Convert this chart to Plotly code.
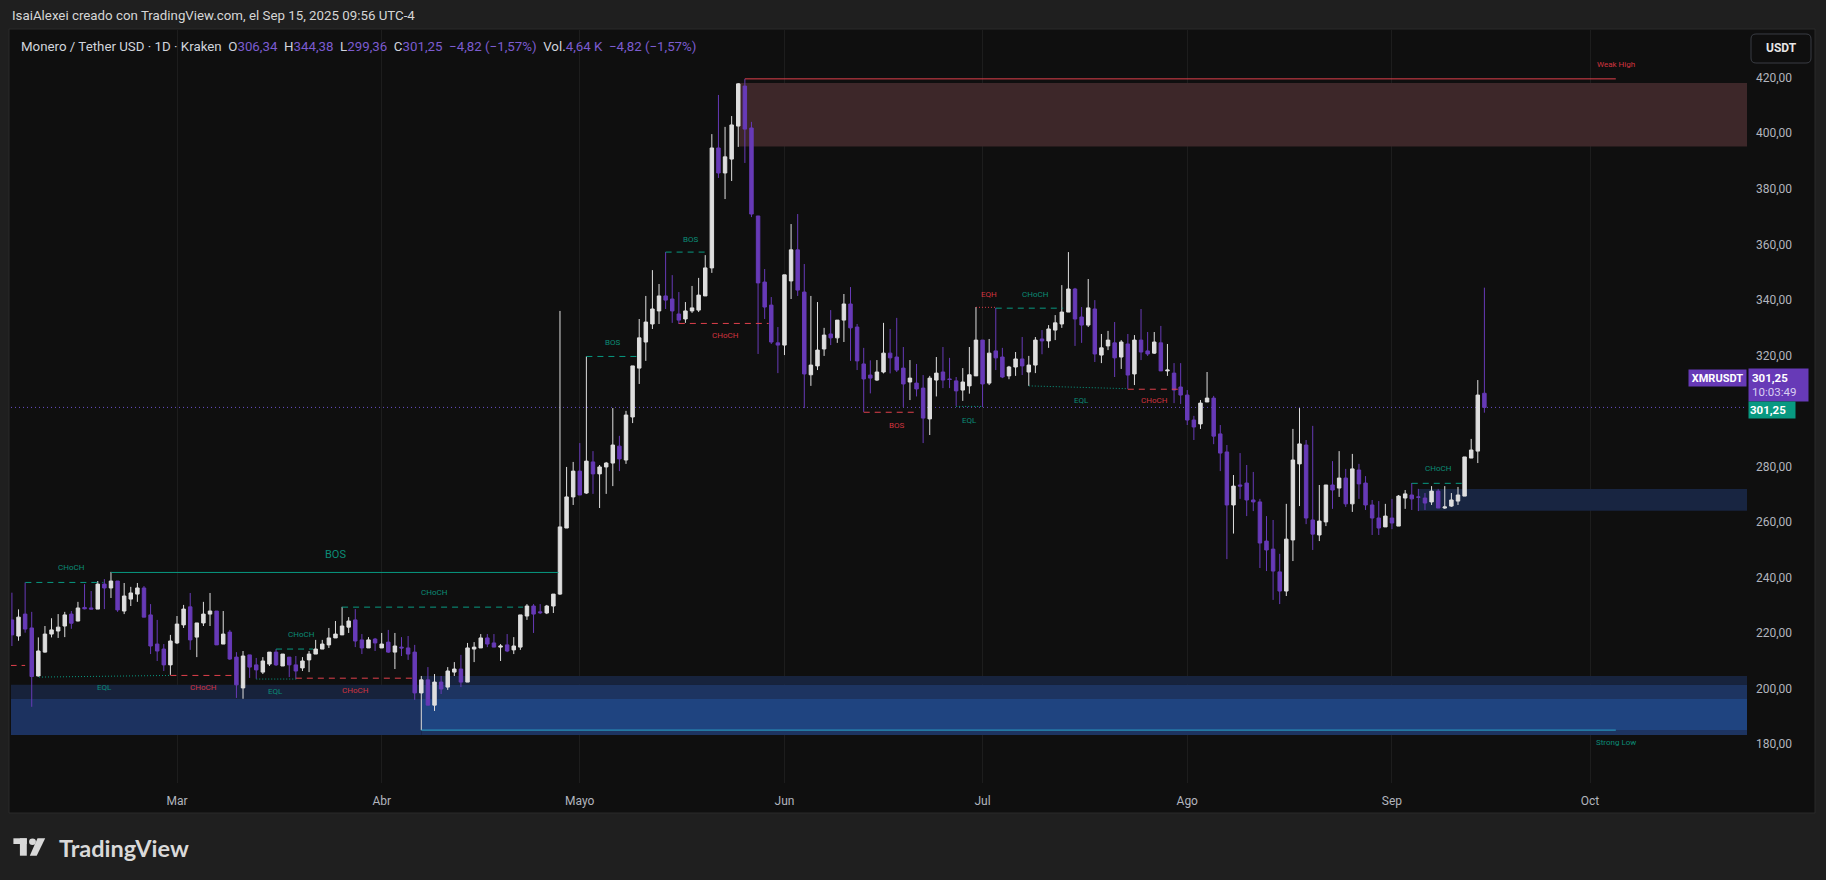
import plotly.graph_objects as go
import pandas as pd
from datetime import datetime, timedelta

# ---------------- data (daily candles from 2025-02-04) ----------------
START_DATE = "2025-02-04"
opens = [
 224.7,218.9,226.8,221.8,204.5,213.1,219.6,220.7,222.5,226.8,224.3,229.2,229.0,228.6,237.6,236.2,238.7,227.9,232.2,234.0,236.2,226.5,216.0,214.2,208.5,
 216.4,222.9,229.4,218.5,223.6,226.8,227.9,216.0,220.3,211.3,200.2,212.1,208.5,205.9,208.8,213.1,208.1,211.3,208.5,207.4,210.3,212.4,214.2,215.7,218.2,219.3,222.1,224.7,217.5,214.6,217.8,
 214.6,216.7,213.1,214.9,214.6,213.1,198.4,203.1,194.0,202.3,200.5,205.9,207.0,202.3,214.2,214.6,218.2,216.4,214.9,215.7,213.9,214.9,226.1,229.7,227.6,227.2,229.7,234.0,257.8,269.0,
 278.3,270.4,281.6,277.3,279.8,281.2,287.3,282.3,297.8,315.4,324.8,331.3,336.0,341.4,340.3,334.9,333.1,336.0,336.3,341.4,351.5,394.7,385.7,390.7,402.6,417.0,401.9,370.2,346.4,338.1,324.5,
 323.7,346.8,358.0,342.8,313.0,316.2,322.3,327.7,326.3,332.7,338.5,330.2,316.9,312.9,311.1,314.0,320.8,319.4,315.4,310.4,310.0,308.2,297.1,311.1,314.0,311.5,310.8,307.5,309.0,312.6,
 325.5,310.0,321.6,319.4,312.6,315.8,318.7,314.0,316.5,325.9,325.2,329.1,331.3,335.6,343.9,333.8,330.9,336.7,320.1,323.4,324.5,319.4,324.1,313.3,325.5,321.6,320.8,324.5,314.4,313.6,308.6,
 305.7,296.7,295.3,303.2,304.6,291.7,285.2,266.1,273.3,274.0,267.9,267.2,253.1,250.2,242.0,235.1,253.5,280.9,287.7,260.7,255.3,260.0,273.3,272.2,275.8,266.5,278.7,274.0,266.1,261.4,258.2,
 261.4,258.5,268.6,269.7,269.0,268.6,267.2,271.1,265.0,265.7,267.5,269.3,283.0,285.5,306.34]
highs = [
 234.5,228.5,238.2,227.6,218.4,222.5,225.3,226.8,227.6,227.9,231.2,237.6,235.1,238.7,239.4,242.0,238.7,238.0,236.6,238.0,236.9,230.4,224.7,216.0,219.3,
 226.1,230.1,234.4,223.6,231.2,234.4,227.9,227.9,221.1,213.1,213.5,212.1,211.0,211.3,213.1,214.2,212.4,211.3,211.7,211.3,213.5,217.5,217.5,221.8,224.3,229.4,225.7,228.6,219.6,218.5,218.2,
 220.0,221.1,220.0,218.5,218.9,215.7,204.5,207.7,205.2,204.5,207.7,209.5,212.1,216.4,216.7,219.6,219.6,219.6,216.0,219.6,218.5,226.5,230.4,230.4,230.4,230.1,234.0,336.0,279.8,281.6,
 288.4,319.6,285.5,280.5,281.6,301.0,291.0,300.0,316.2,333.1,341.4,350.7,345.7,357.2,348.9,342.8,339.2,345.0,347.9,356.1,399.7,413.8,402.3,406.2,418.1,419.6,404.1,370.2,351.1,341.0,330.2,
 349.0,367.3,370.9,352.9,341.4,339.2,329.9,336.3,332.7,342.1,344.6,331.3,322.7,318.2,318.3,331.7,329.5,333.5,323.0,318.3,316.9,312.9,312.6,319.4,323.0,319.1,312.2,315.4,323.0,337.4,
 325.5,325.9,337.1,322.7,316.2,321.2,326.6,319.8,326.6,329.1,330.9,334.5,345.3,357.2,344.3,337.4,347.5,339.9,327.7,328.8,332.0,325.5,327.7,327.3,336.7,328.4,328.4,330.6,324.1,317.2,317.2,
 307.5,298.2,303.9,314.0,305.4,294.9,287.7,276.9,284.8,280.5,278.0,268.3,262.1,260.7,248.5,266.5,293.5,301.0,289.5,294.6,273.3,273.3,281.9,285.5,279.1,284.5,280.9,276.5,267.9,267.5,266.5,
 268.3,269.7,271.5,274.0,271.9,270.4,272.9,271.9,272.9,270.4,272.6,283.4,289.9,311.1,344.38]
lows = [
 215.3,217.2,220.1,193.4,204.3,212.9,218.4,218.2,218.5,221.5,224.2,228.5,228.6,228.6,228.6,232.6,227.6,226.8,229.7,231.2,225.7,212.4,209.9,206.3,204.9,
 216.0,221.8,213.9,211.3,222.5,222.5,215.7,216.0,210.3,196.6,196.3,203.8,203.5,205.2,208.1,208.1,208.1,204.1,203.5,206.3,205.9,212.4,214.2,214.6,218.2,219.3,220.0,214.9,212.4,214.6,213.5,
 214.6,212.8,207.0,211.7,210.3,195.9,185.0,194.0,191.9,198.0,199.5,204.5,200.5,202.3,209.5,214.6,214.9,214.9,209.9,213.1,212.4,213.9,224.7,220.0,226.8,226.8,227.2,233.7,257.8,266.1,
 269.7,270.1,270.1,265.0,270.1,272.9,278.3,280.9,295.6,309.7,318.0,329.5,331.3,336.7,331.7,331.3,331.7,335.3,335.6,341.4,349.7,383.9,376.3,382.8,395.1,389.3,369.8,320.5,333.1,324.1,313.6,
 320.1,340.3,341.4,301.0,309.0,314.7,319.8,323.7,324.5,324.8,318.0,314.7,299.6,306.3,310.8,313.5,313.5,314.0,301.4,303.9,305.2,288.4,291.3,305.2,308.2,308.2,301.8,303.6,306.2,312.6,
 301.4,309.3,314.7,311.8,311.4,312.6,312.9,309.0,313.6,320.4,322.7,325.5,329.9,335.6,323.4,324.5,330.2,317.6,317.2,321.9,312.2,315.1,307.9,309.3,318.3,319.8,320.5,314.4,312.6,302.8,302.5,
 294.9,289.5,293.5,303.2,288.0,278.3,246.6,255.8,268.3,262.1,263.9,243.4,242.3,231.9,230.4,233.3,245.9,265.7,259.2,249.9,253.1,258.5,264.7,269.0,265.4,263.6,268.3,264.3,255.3,255.3,258.2,
 257.4,258.5,264.7,264.3,263.9,264.3,266.1,265.0,264.7,265.4,266.1,269.3,283.0,281.2,299.36]
closes = [
 219.3,225.7,221.4,204.3,213.5,219.6,221.1,222.1,226.5,223.5,229.0,228.7,228.6,237.6,236.2,238.7,228.3,233.3,234.4,236.2,225.7,215.3,213.5,208.5,217.1,
 223.2,228.6,217.5,223.6,226.8,227.9,215.7,219.6,210.6,201.3,211.7,207.7,206.7,209.9,213.1,208.5,212.4,208.5,206.3,209.9,212.4,214.2,216.0,218.2,219.6,222.5,224.3,217.1,214.6,217.5,216.4,
 216.0,213.1,215.3,214.6,212.4,198.4,203.1,194.0,202.3,199.8,206.3,207.0,202.3,214.6,214.9,218.2,216.0,214.9,215.3,213.5,215.3,226.5,229.7,226.8,227.3,229.7,234.0,258.2,269.0,278.3,
 269.7,281.9,277.3,279.8,281.2,287.7,282.7,298.5,316.2,326.3,332.0,336.7,341.4,339.9,336.0,332.7,336.0,337.1,341.7,351.5,394.7,385.7,391.5,403.0,417.8,401.5,370.9,346.1,337.4,324.8,323.7,
 349.0,358.0,343.5,313.3,316.5,321.9,327.3,326.3,332.7,338.5,329.9,318.0,311.5,311.8,314.0,320.8,319.1,314.7,309.7,311.8,307.9,297.4,311.8,313.6,311.1,311.3,307.2,310.4,313.0,325.5,
 309.7,320.8,319.1,312.2,315.8,318.7,316.2,316.5,325.5,325.2,329.5,331.7,335.6,343.9,333.1,330.9,337.1,320.5,322.7,325.5,319.1,324.8,312.9,325.5,321.2,320.5,324.8,314.4,314.7,307.5,305.7,
 296.7,294.2,302.8,304.6,290.9,284.8,266.1,272.9,272.9,267.9,267.2,252.4,249.9,242.3,235.1,253.8,282.3,288.1,261.4,255.6,260.3,273.3,271.5,275.8,266.5,279.1,273.7,266.1,261.4,257.8,262.1,
 259.6,269.3,270.1,268.3,268.9,266.8,271.1,265.0,265.4,267.9,269.7,283.4,285.9,305.7,301.25]
dates = pd.date_range(START_DATE, periods=len(opens), freq="D")

last_price = 301.25
month_ticks = ["2025-03-01", "2025-04-01", "2025-05-01", "2025-06-01",
               "2025-07-01", "2025-08-01", "2025-09-01", "2025-10-01"]
month_labels = ["Mar", "Abr", "Mayo", "Jun", "Jul", "Ago", "Sep", "Oct"]
price_ticks = [180, 200, 220, 240, 260, 280, 320, 340, 360, 380, 400, 420]

# structure levels: day offsets from 2025-03-01, prices
lvl_d0 = [-22.97, -9.95, 15.0, 25.0, 62.0, 74.0, 76.0, -25.2, -1.0, 18.0, -20.9, 12.0, 104.0, 118.0, 121.0, 124.0, 129.0, 144.0, 187.0, 86.0, 37.0]
lvl_d1 = [-11.16, 57.75, 20.6, 52.4, 69.7, 80.4, 89.6, -23.0, 8.5, 35.8, -1.0, 18.07, 112.3, 121.8, 123.9, 134.2, 143.8, 151.9, 194.8, 217.9, 217.9]
lvl_p0 = [238.2, 241.8, 214.2, 229.3, 319.6, 357.2, 331.5, 208.3, 204.7, 203.7, 204.1, 203.4, 299.5, 301.6, 337.3, 337.0, 309.0, 307.8, 273.9, 419.6, 185.0]
lvl_p1 = [238.2, 241.8, 214.2, 229.3, 319.6, 357.2, 331.5, 208.3, 204.7, 203.7, 204.7, 203.4, 299.5, 301.6, 337.3, 337.0, 308.0, 307.8, 273.9, 419.6, 185.0]
lvl_kind = ["bull_dash", "bull_solid", "bull_dash", "bull_dash", "bull_dash", "bull_dash", "bear_dash",
            "bear_dash", "bear_dash", "bear_dash", "bull_dot", "bull_dot", "bear_dash", "bull_dot",
            "bear_dot", "bull_dash", "bull_dot", "bear_dash", "bull_dash", "weak_high", "strong_low"]

lbl_text = ["CHoCH", "BOS", "CHoCH", "CHoCH", "EQL", "CHoCH", "EQL", "CHoCH", "BOS", "BOS", "CHoCH",
            "BOS", "EQL", "EQH", "CHoCH", "EQL", "CHoCH", "CHoCH", "Weak High", "Strong Low"]
lbl_day = [-15.93, 23.93, 18.87, 38.97, -11.01, 4.04, 14.89, 27.06, 65.88, 77.84, 83.10,
           108.94, 119.99, 122.93, 129.99, 136.96, 148.07, 191.08, 217.9, 217.9]
lbl_price = [243.5, 248.4, 219.4, 234.4, 200.5, 200.5, 199.0, 199.1, 324.8, 361.9, 327.3,
             294.9, 296.7, 342.1, 342.1, 303.6, 303.6, 279.1, 424.6, 180.7]
lbl_kind = ["bull", "bull_big", "bull", "bull", "bull", "bear", "bull", "bear", "bull", "bull", "bear",
            "bear", "bull", "bear", "bull", "bull", "bear", "bull", "bear", "bull"]

# order-block zones: day offsets, price bounds
X_LEFT, X_RIGHT = -25.14, 237.77
zone_d0 = [85.15, 188.0, X_LEFT, X_LEFT, 37.0, 37.0, 37.0, 37.0]
zone_d1 = [X_RIGHT, X_RIGHT, 37.0, 37.0, X_RIGHT, X_RIGHT, X_RIGHT, X_RIGHT]
zone_lo = [395.2, 264.0, 196.2, 183.2, 201.3, 196.2, 185.0, 183.2]
zone_hi = [418.1, 271.9, 201.3, 196.2, 204.5, 201.3, 196.2, 185.0]
zone_col = ["#3d2729", "#182541", "#17223b", "#1c3260", "#17233d", "#1d3461", "#1f4480", "#1d3461"]

# ---------------- styling helpers ----------------
W, H = 1826, 880
ML, MR, MT, MB = 11, 1826 - 1747, 30, 880 - 783
BASE = datetime(2025, 3, 1)
FONT = "Roboto, Liberation Sans, sans-serif"
NARROW = "Liberation Sans Narrow, Roboto, sans-serif"
TEAL, RED, CYAN = "#089981", "#e0404c", "#2aa5c9"
TEAL_TXT, RED_TXT = "#0b8c76", "#d2343f"


def dday(d):
    return (BASE + timedelta(days=d)).strftime("%Y-%m-%d %H:%M:%S")


def pxx(x):
    return (x - ML) / (W - ML - MR)


def pxy(y):
    return (H - MB - y) / (H - MB - MT)


fig = go.Figure()
fig.add_trace(go.Candlestick(
    x=dates, open=opens, high=highs, low=lows, close=closes,
    increasing=dict(line=dict(color="#dedede", width=1), fillcolor="#dedede"),
    decreasing=dict(line=dict(color="#673ab7", width=1), fillcolor="#673ab7"),
    whiskerwidth=0, hoverinfo="skip", showlegend=False))

shapes = []
# frame
shapes.append(dict(type="rect", xref="paper", yref="paper", x0=pxx(9), x1=pxx(1815), y0=pxy(813), y1=pxy(29),
                   fillcolor="#0f0f0f", line=dict(color="#2b2b2b", width=1), layer="below"))
# zones
for d0, d1, lo, hi, c in zip(zone_d0, zone_d1, zone_lo, zone_hi, zone_col):
    shapes.append(dict(type="rect", xref="x", yref="y", x0=dday(d0), x1=dday(d1), y0=lo, y1=hi,
                       fillcolor=c, line=dict(width=0), layer="between"))
# current price dotted line
shapes.append(dict(type="line", xref="x", yref="y", x0=dday(X_LEFT), x1=dday(X_RIGHT), y0=last_price, y1=last_price,
                   line=dict(color="#6a50c8", width=1, dash="1px,3px"), layer="between"))
# structure levels
style = {
    "bull_dash": dict(color=TEAL, width=1, dash="6px,5px"),
    "bear_dash": dict(color=RED, width=1, dash="6px,5px"),
    "bull_solid": dict(color=TEAL, width=1),
    "bull_dot": dict(color=TEAL, width=1, dash="1px,2px"),
    "bear_dot": dict(color=RED, width=1, dash="1px,2px"),
    "weak_high": dict(color=RED, width=1),
    "strong_low": dict(color=CYAN, width=1),
}
for d0, d1, p0, p1, k in zip(lvl_d0, lvl_d1, lvl_p0, lvl_p1, lvl_kind):
    shapes.append(dict(type="line", xref="x", yref="y", x0=dday(d0), x1=dday(d1), y0=p0, y1=p1,
                       line=style[k], layer="above"))

# TradingView logo shapes
LOGO = "#d9d9d9"
shapes.append(dict(type="rect", xref="paper", yref="paper", x0=pxx(13.4), x1=pxx(26.8), y0=pxy(844), y1=pxy(838.3),
                   fillcolor=LOGO, line=dict(width=0)))
shapes.append(dict(type="rect", xref="paper", yref="paper", x0=pxx(19.9), x1=pxx(26.8), y0=pxy(855.7), y1=pxy(838.3),
                   fillcolor=LOGO, line=dict(width=0)))
shapes.append(dict(type="circle", xref="paper", yref="paper", x0=pxx(29.1), x1=pxx(35.9), y0=pxy(845), y1=pxy(838.4),
                   fillcolor=LOGO, line=dict(width=0)))
shapes.append(dict(type="path", xref="paper", yref="paper",
                   path=f"M {pxx(37.5)},{pxy(838.3)} L {pxx(45.2)},{pxy(838.3)} L {pxx(36.7)},{pxy(855.7)} L {pxx(29.8)},{pxy(855.7)} Z",
                   fillcolor=LOGO, line=dict(width=0)))


# USDT button (rounded)
def rrect(x0, y0, x1, y1, r):
    X = lambda v: f"{pxx(v):.6f}"
    Y = lambda v: f"{pxy(v):.6f}"
    return (f"M {X(x0+r)},{Y(y0)} L {X(x1-r)},{Y(y0)} Q {X(x1)},{Y(y0)} {X(x1)},{Y(y0+r)} "
            f"L {X(x1)},{Y(y1-r)} Q {X(x1)},{Y(y1)} {X(x1-r)},{Y(y1)} L {X(x0+r)},{Y(y1)} "
            f"Q {X(x0)},{Y(y1)} {X(x0)},{Y(y1-r)} L {X(x0)},{Y(y0+r)} Q {X(x0)},{Y(y0)} {X(x0+r)},{Y(y0)} Z")


shapes.append(dict(type="path", xref="paper", yref="paper", path=rrect(1751, 34, 1811, 63, 5),
                   fillcolor="#0f0f0f", line=dict(color="#3a3d44", width=1)))

ann = []
# title + legend header
ann.append(dict(xref="paper", yref="paper", x=pxx(10), y=pxy(15.5), xanchor="left", yanchor="middle",
                text="IsaiAlexei creado con TradingView.com, el Sep 15, 2025 09:56 UTC-4",
                font=dict(family=FONT, size=13.3, color="#d6d6d6"), showarrow=False))
P = "#7c5cd0"
sp = "\u00a0\u00a0"
hdr = (f"Monero / Tether USD · 1D · Kraken{sp}O<span style='color:{P}'>306,34</span>{sp}"
       f"H<span style='color:{P}'>344,38</span>{sp}L<span style='color:{P}'>299,36</span>{sp}"
       f"C<span style='color:{P}'>301,25</span>{sp}<span style='color:{P}'>\u22124,82 (\u22121,57%)</span>{sp}"
       f"Vol.<span style='color:{P}'>4,64\u00a0K</span>{sp}<span style='color:{P}'>\u22124,82 (\u22121,57%)</span>")
ann.append(dict(xref="paper", yref="paper", x=pxx(19), y=pxy(46.5), xanchor="left", yanchor="middle",
                text=hdr, font=dict(family=FONT, size=13.3, color="#d1d4dc"), showarrow=False))
# SMC labels
for t, d, p, k in zip(lbl_text, lbl_day, lbl_price, lbl_kind):
    col = TEAL_TXT if k.startswith("bull") else RED_TXT
    size = 11 if k == "bull_big" else 8
    ann.append(dict(xref="x", yref="y", x=dday(d), y=p, text=t, showarrow=False,
                    xanchor="center", yanchor="middle", font=dict(family=NARROW, size=size, color=col)))
# right-side price tags
ann.append(dict(xref="paper", yref="paper", x=pxx(1717.5), y=pxy(377.5), xanchor="center", yanchor="middle",
                text="<b>XMRUSDT</b>", bgcolor="#673ab7", width=57, height=16, borderpad=0,
                font=dict(family=FONT, size=11, color="#ffffff"), showarrow=False))
ann.append(dict(xref="paper", yref="paper", x=pxx(1748), y=pxy(384.5), xanchor="left", yanchor="middle",
                text="<b>301,25</b><br><span style='color:#d9cff2'>10:03:49</span>", align="left",
                bgcolor="#673ab7", width=53, height=26, borderpad=3,
                font=dict(family=FONT, size=11.5, color="#ffffff"), showarrow=False))
ann.append(dict(xref="paper", yref="paper", x=pxx(1748), y=pxy(409.5), xanchor="left", yanchor="middle",
                text="<b>301,25</b>", align="left", bgcolor="#089981", width=44, height=14, borderpad=1,
                font=dict(family=FONT, size=11.5, color="#ffffff"), showarrow=False))
ann.append(dict(xref="paper", yref="paper", x=pxx(1781), y=pxy(48.5), xanchor="center", yanchor="middle",
                text="<b>USDT</b>", font=dict(family=FONT, size=12, color="#e6e6e6"), showarrow=False))
ann.append(dict(xref="paper", yref="paper", x=pxx(57), y=pxy(848), xanchor="left", yanchor="middle",
                text="<b>TradingView</b>", font=dict(family="Lato, Inter, sans-serif", size=23.5, color=LOGO),
                showarrow=False))

fig.update_layout(
    width=W, height=H, margin=dict(l=ML, r=MR, t=MT, b=MB, autoexpand=False),
    paper_bgcolor="#1f1f1f", plot_bgcolor="#0f0f0f",
    separators=", ", showlegend=False, boxgap=0.25,
    shapes=shapes, annotations=ann,
    xaxis=dict(type="date", range=[dday(X_LEFT), dday(X_RIGHT)], rangeslider=dict(visible=False),
               tickvals=month_ticks, ticktext=month_labels, showgrid=True, gridcolor="#1d1d1d", gridwidth=1,
               zeroline=False, showline=False, ticks="", ticklen=0, ticklabelstandoff=9,
               tickfont=dict(family=FONT, size=12, color="#b2b5be"), fixedrange=True),
    yaxis=dict(side="right", range=[165.95, 437.2], tickvals=price_ticks, tickformat=".2f",
               showgrid=False, zeroline=False, showline=False, ticks="", ticklen=0, ticklabelstandoff=8,
               tickfont=dict(family=FONT, size=12, color="#b2b5be"), fixedrange=True),
)

fig.write_html("out.html", config={"displayModeBar": False},
               post_script="document.body.style.margin='0';document.body.style.background='#1f1f1f';")
